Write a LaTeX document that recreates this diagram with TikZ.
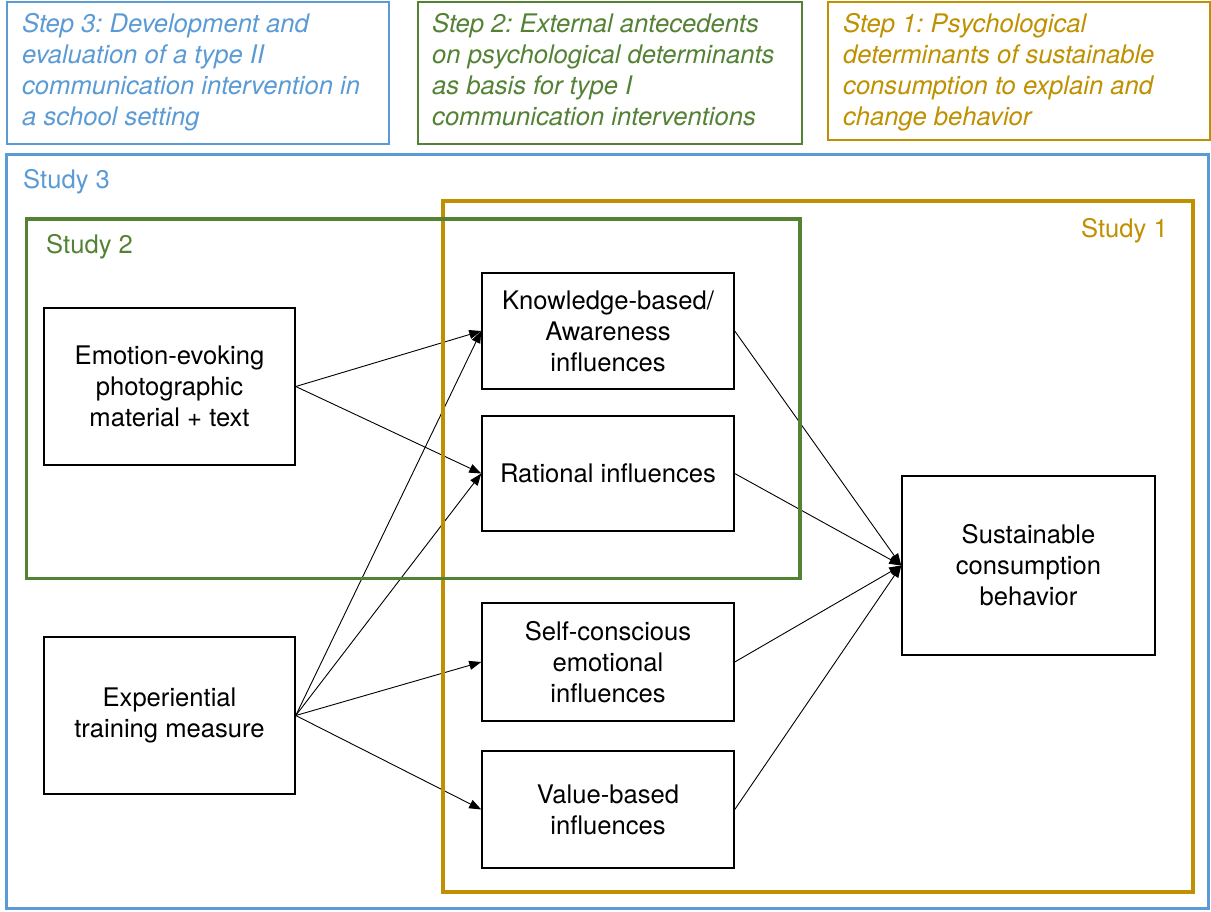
\documentclass[tikz,border=0pt]{standalone}
\usepackage{fontspec}
\setmainfont{TeX Gyre Heros}
\usetikzlibrary{arrows.meta}
\frenchspacing

\definecolor{stepblue}{RGB}{91,155,213}
\definecolor{stepgreen}{RGB}{84,130,53}
\definecolor{stepgold}{RGB}{191,144,0}

\newcommand{\boxfont}{\fontsize{25.6}{31}\selectfont}

\begin{document}
\begin{tikzpicture}[x=1pt,y=-1pt,
  box/.style={draw=black, line width=1.5pt, fill=white, align=center,
    font=\boxfont, inner sep=0pt},
  % base anchor of a multi-line node sits on its last line
  steptext/.style={anchor=base west, align=left, inner sep=0pt,
    font=\boxfont\itshape},
  studylabel/.style={inner sep=0pt, font=\boxfont},
  link/.style={line width=0.9pt, -{Triangle[length=12pt,width=9pt]}},
]
\useasboundingbox (0,0) rectangle (1211,911);

% step descriptions along the top
\draw[stepblue, line width=1.5pt] (7,2) rectangle (389,144);
\node[steptext, text=stepblue] (s3) at (22,125)
  {Step 3: Development and\\evaluation of a type II\\communication intervention in\\a school setting};
\draw[stepgreen, line width=1.5pt] (418,2) rectangle (802,144);
\node[steptext, text=stepgreen] (s2) at (432,125)
  {Step 2: External antecedents\\on psychological determinants\\as basis for type I\\communication interventions};
\draw[stepgold, line width=1.5pt] (828,2) rectangle (1210,140);
\node[steptext, text=stepgold] (s1) at (843,125)
  {Step 1: Psychological\\determinants of sustainable\\consumption to explain and\\change behavior};

% model boxes
\node[box, minimum width=251pt, minimum height=157pt] (emo) at (169.5,386.5)
  {Emotion-evoking\\photographic\\material + text};
\node[box, minimum width=251pt, minimum height=157pt] (exp) at (169.5,715.5)
  {Experiential\\training measure};
\node[box, minimum width=252pt, minimum height=116pt] (know) at (608,331)
  {Knowledge-based/\\Awareness\\influences};
\node[box, minimum width=252pt, minimum height=115pt] (rat) at (608,473.5)
  {Rational influences};
\node[box, minimum width=252pt, minimum height=118pt] (self) at (608,662)
  {Self-conscious\\emotional\\influences};
\node[box, minimum width=252pt, minimum height=117pt] (val) at (608,809.5)
  {Value-based\\influences};
\node[box, minimum width=253pt, minimum height=179pt] (sus) at (1028.5,565.5)
  {Sustainable\\consumption\\behavior};

% connectors
\draw[link] (emo.east) -- (know.west);
\draw[link] (emo.east) -- (rat.west);
\draw[link] (exp.east) -- (know.west);
\draw[link] (exp.east) -- (rat.west);
\draw[link] (exp.east) -- (self.west);
\draw[link] (exp.east) -- (val.west);
\draw[link] (know.east) -- (sus.west);
\draw[link] (rat.east) -- (sus.west);
\draw[link] (self.east) -- (sus.west);
\draw[link] (val.east) -- (sus.west);

% study frames
\draw[stepblue, line width=3pt] (6.5,154.5) rectangle (1208.5,908.5);
\draw[stepgold, line width=4pt] (442.5,200.5) rectangle (1193,891.5);
\draw[stepgreen, line width=3.5pt] (26.5,219) rectangle (800,578.5);

\node[studylabel, text=stepblue, anchor=base west] (st3) at (23,188) {Study 3};
\node[studylabel, text=stepgreen, anchor=base west] (st2) at (46,253) {Study 2};
\node[studylabel, text=stepgold, anchor=base east] (st1) at (1168,237) {Study 1};
\end{tikzpicture}
\end{document}
